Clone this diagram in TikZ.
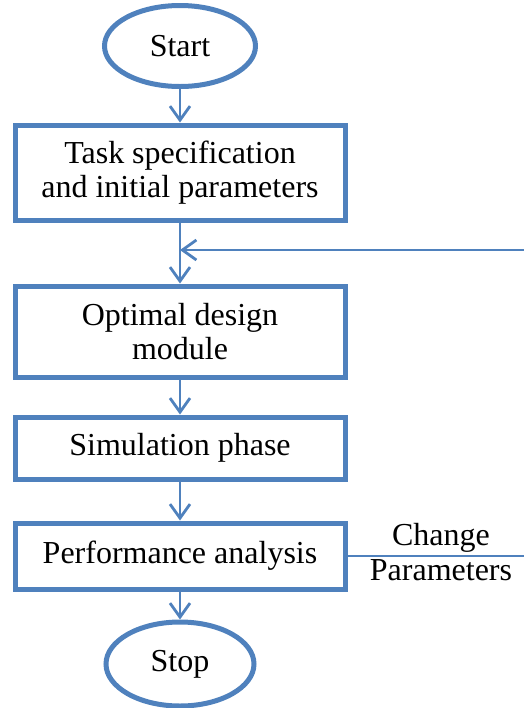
\documentclass[tikz,border=0pt]{standalone}
\usepackage{fontspec}
\setmainfont{Liberation Serif}
\usepackage{xcolor}
\usepackage{tikz}
\usetikzlibrary{arrows.meta,shapes.geometric}
\definecolor{flowblue}{HTML}{4F81BD}
\tikzset{
  ar/.style={-{Straight Barb[length=7pt,width=10pt]},line width=1.4pt,flowblue},
  ln/.style={line width=1.4pt,flowblue},
  box/.style={draw=flowblue,line width=2.5pt,rectangle,align=center,minimum width=165pt,
    font=\fontsize{16}{16.8}\selectfont,inner sep=2pt},
  term/.style={draw=flowblue,line width=2.5pt,ellipse,align=center,inner sep=0pt,
    font=\fontsize{16}{16.8}\selectfont},
  lbl/.style={font=\fontsize{16}{16.8}\selectfont,inner sep=1.5pt}
}
\begin{document}
\begin{tikzpicture}[x=0.5pt,y=-0.5pt]
\useasboundingbox (0,0) rectangle (524,708);
% flow boxes
\node[term,minimum width=75.5pt,minimum height=40.5pt] (start) at (180,46) {\raisebox{-3pt}{Start}};
\node[box,minimum height=47.5pt] (task) at (180,172.5) {Task specification\\and initial parameters};
\node[box,minimum height=45.5pt] (design) at (180,331.5) {Optimal design\\module};
\node[box,minimum height=31pt] (sim) at (180,448) {Simulation phase};
\node[box,minimum height=33pt] (perf) at (180,556) {Performance analysis};
\node[term,minimum width=74pt,minimum height=42pt] (stop) at (180,664) {Stop};
% connectors
\draw[ar] (start) -- (task);
\draw[ar] (task) -- (design);
\draw[ar] (design) -- (sim);
\draw[ar] (sim) -- (perf);
\draw[ar] (perf) -- (stop);
% feedback
\coordinate (fbin) at (524,250);
\coordinate (fbout) at (524,556);
\draw[ar] (fbin) -- (fbin -| task);
\draw[ln] (perf.east) -- (fbout);
\node[lbl,above] (chg) at (441,556) {Change};
\node[lbl,below] (par) at (441,556) {Parameters};
\end{tikzpicture}
\end{document}
